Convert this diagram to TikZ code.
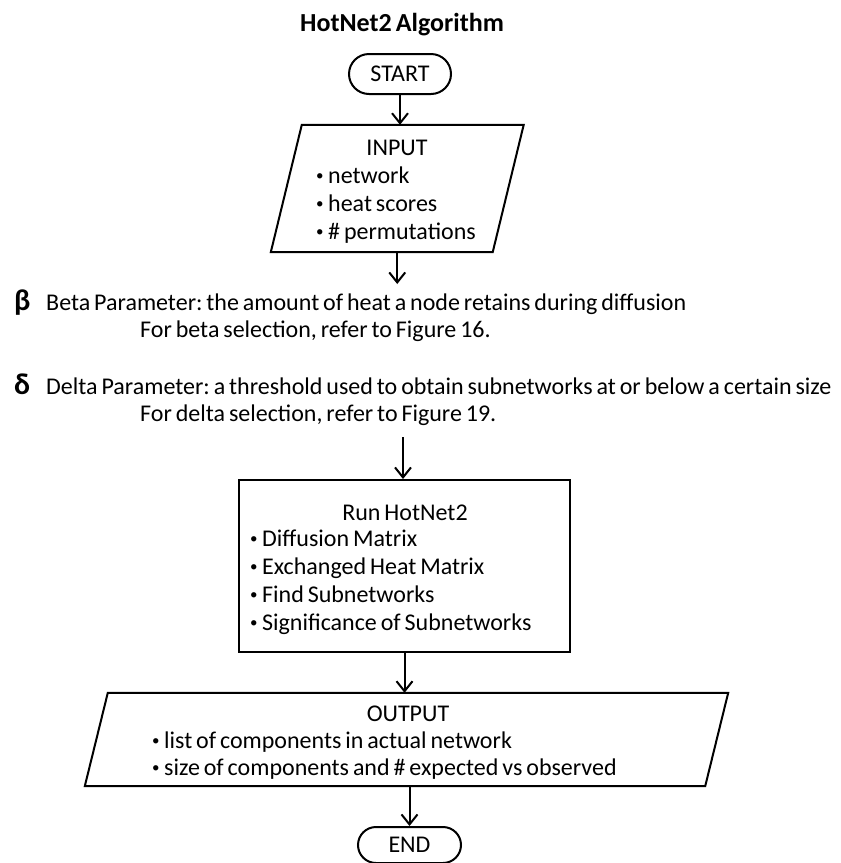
\documentclass[tikz,border=0pt]{standalone}
\usepackage{fontspec}
\setmainfont{Carlito}[WordSpace={0.72,0.5,0.5}]
\usetikzlibrary{arrows.meta,shapes.misc,calc}
\newcommand{\bul}{{\fontsize{15}{15}\selectfont\raisebox{2.2pt}{•}}\hspace{4.5pt}}
\begin{document}
\frenchspacing
\begin{tikzpicture}[x=1pt,y=-1pt,
  flow/.style={line width=2pt,-{Straight Barb[length=10pt,width=16pt,line width=2pt]}},
  terminal/.style={rounded rectangle,draw,line width=2pt,inner sep=0pt,font=\fontsize{24}{28}\selectfont},
  frame/.style={draw,line width=2pt,inner sep=0pt},
  band/.style={inner sep=0pt},
  outline/.style={line width=2pt,line join=miter},
  txt/.style={inner sep=0pt,anchor=base west,font=\fontsize{24}{28}\selectfont},
  ctxt/.style={inner sep=0pt,anchor=base,font=\fontsize{24}{28}\selectfont},
  greek/.style={inner sep=0pt,anchor=base west,font=\bfseries\fontsize{30}{30}\selectfont},
]
\useasboundingbox (0,0) rectangle (841,863);

% heading
\node[ctxt,font=\bfseries\fontsize{26}{30}\selectfont] (title) at (402,31) {HotNet2 Algorithm};

% start terminal
\node[terminal,minimum width=102pt,minimum height=40pt] (start) at (400,74) {START};

% input parallelogram
\node[band,minimum width=221.5pt,minimum height=127pt] (inp) at (397.25,188.5) {};
\draw[outline] ($(inp.north west)+(15.5,0)$) -- ($(inp.north east)+(15.5,0)$)
  -- ($(inp.south east)+(-15.5,0)$) -- ($(inp.south west)+(-15.5,0)$) -- cycle;
\node[ctxt] (inptitle) at (397,155) {INPUT};
\node[txt] (in1) at (316,183) {\bul network};
\node[txt] (in2) at (316,211) {\bul heat scores};
\node[txt] (in3) at (316,239) {\bul\# permutations};

\draw[flow] (start.south) -- (start.south |- inp.north);
\coordinate (b1) at (397.25,284);
\draw[flow] (inp.south) -- (b1);

% parameters
\node[greek] (beta) at (14,310) {β};
\node[txt] (betadef) at (46,310) {Beta Parameter: the amount of heat a node retains during diffusion};
\node[txt] (betaref) at (140,337) {For beta selection, refer to Figure 16.};
\node[greek] (delta) at (14,394) {δ};
\node[txt] (deltadef) at (46,394) {Delta Parameter: a threshold used to obtain subnetworks at or below a certain size};
\node[txt] (deltaref) at (140,421) {For delta selection, refer to Figure 19.};

% run box
\coordinate (b2) at (403,437);
\node[frame,minimum width=331pt,minimum height=172pt] (run) at (404.5,566) {};
\draw[flow] (b2) -- (b2 |- run.north);
\node[ctxt] (runtitle) at (405,520) {Run HotNet2};
\node[txt] (r1) at (250,546) {\bul Diffusion Matrix};
\node[txt] (r2) at (250,574) {\bul Exchanged Heat Matrix};
\node[txt] (r3) at (250,602) {\bul Find Subnetworks};
\node[txt] (r4) at (250,630) {\bul Significance of Subnetworks};

% output parallelogram
\node[band,minimum width=620pt,minimum height=93pt] (out) at (406.5,739.5) {};
\draw[outline] ($(out.north west)+(11.5,0)$) -- ($(out.north east)+(11.5,0)$)
  -- ($(out.south east)+(-11.5,0)$) -- ($(out.south west)+(-11.5,0)$) -- cycle;
\node[ctxt] (outtitle) at (408,721) {OUTPUT};
\node[txt] (o1) at (152,748) {\bul list of components in actual network};
\node[txt] (o2) at (152,775) {\bul size of components and \# expected vs observed};

\draw[flow] (run.south) -- (run.south |- out.north);

% end terminal
\node[terminal,minimum width=103pt,minimum height=36pt] (end) at (409.5,845) {END};
\draw[flow] (end.north |- out.south) -- (end.north);
\end{tikzpicture}
\end{document}
